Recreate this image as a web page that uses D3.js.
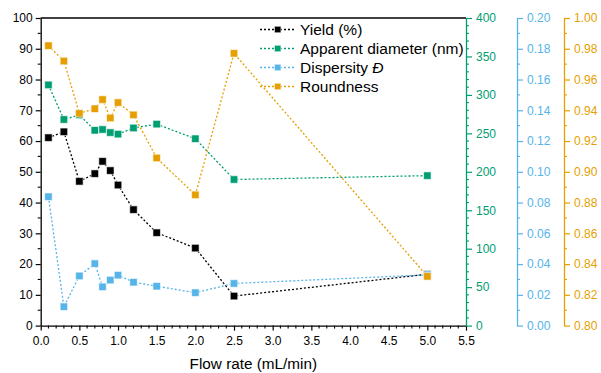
<!DOCTYPE html>
<html><head><meta charset="utf-8">
<script src="https://cdn.jsdelivr.net/npm/d3@7"></script>
<style>
html,body{margin:0;padding:0;background:#fff;}
svg{display:block;font-family:"Liberation Sans",Arial,sans-serif;}
</style></head>
<body><svg id="c" width="601" height="373"></svg>
<script>
const flowRate = [0.1, 0.3, 0.5, 0.7, 0.8, 0.9, 1.0, 1.2, 1.5, 2.0, 2.5, 5.0];
const yieldPct = [61.1, 63.0, 46.9, 49.4, 53.4, 50.4, 45.7, 37.7, 30.2, 25.2, 9.6, 16.7];
const diameterNm = [313, 268, 274, 254, 255, 251, 249, 257, 262, 243, 190, 195];
const dispersity = [0.0838, 0.0123, 0.0323, 0.0403, 0.0252, 0.0296, 0.0328, 0.0282, 0.0256, 0.0214, 0.0274, 0.033];
const roundness = [0.982, 0.972, 0.938, 0.941, 0.947, 0.935, 0.945, 0.937, 0.909, 0.885, 0.977, 0.832];
const legendLabels = ["Yield (%)", "Apparent diameter (nm)", "Dispersity Đ", "Roundness"];
const xTicks = [0,0.5,1,1.5,2,2.5,3,3.5,4,4.5,5,5.5];

const C = {black:"#000000", green:"#009E73", blue:"#56B4E9", orange:"#E69F00"};
const L = 40.7, R = 466, T = 18, B = 325.6;
const svg = d3.select("#c");

const x = d3.scaleLinear().domain([0,5.5]).range([L,R]);
const yL = d3.scaleLinear().domain([0,100]).range([B,T]);
const yG = d3.scaleLinear().domain([0,400]).range([B,T]);
const yB = d3.scaleLinear().domain([0,0.2]).range([B,T]);
const yO = d3.scaleLinear().domain([0.8,1.0]).range([B,T]);

function styleAxis(g, color){
  g.selectAll("path.domain").attr("stroke", color).attr("stroke-width", 1.3);
  g.selectAll(".tick line").attr("stroke", color).attr("stroke-width", 1.2);
  g.selectAll(".tick text").attr("fill", color).attr("font-size", 12)
    .attr("font-family", '"Liberation Sans",Arial,sans-serif');
}
function minor(g, ticks, scale, orient, len, color){
  ticks.forEach(v=>{
    const p = scale(v);
    if (orient==="left") g.append("line").attr("x1",0).attr("x2",-len).attr("y1",p).attr("y2",p);
    else if (orient==="right") g.append("line").attr("x1",0).attr("x2",len).attr("y1",p).attr("y2",p);
    else g.append("line").attr("x1",p).attr("x2",p).attr("y1",0).attr("y2",len);
  });
  g.selectAll(":scope > line").attr("stroke", color).attr("stroke-width",1.1);
}

// top frame line
svg.append("line").attr("x1",L).attr("x2",R).attr("y1",T).attr("y2",T).attr("stroke","#000").attr("stroke-width",1.3);

// bottom axis
const gx = svg.append("g").attr("transform",`translate(0,${B})`)
  .call(d3.axisBottom(x).tickValues(xTicks).tickFormat(d3.format(".1f")).tickSize(5).tickSizeOuter(0).tickPadding(6));
styleAxis(gx, C.black);
minor(gx, d3.range(0,56).map(i=>i/10).filter(v=>Math.round(v*10)%5!==0), x, "bottom", 3, C.black);

// left axis
const gl = svg.append("g").attr("transform",`translate(${L},0)`)
  .call(d3.axisLeft(yL).tickValues(d3.range(0,101,10)).tickSize(5).tickSizeOuter(0).tickPadding(3));
styleAxis(gl, C.black);
minor(gl, d3.range(5,100,10), yL, "left", 3, C.black);

// green axis
const gg = svg.append("g").attr("transform",`translate(${R},0)`)
  .call(d3.axisRight(yG).tickValues(d3.range(0,401,50)).tickSize(6).tickSizeOuter(0).tickPadding(4));
styleAxis(gg, C.green);
minor(gg, d3.range(0,401,10).filter(v=>v%50!==0), yG, "right", 3, C.green);

// blue axis
const gb = svg.append("g").attr("transform",`translate(517,0)`)
  .call(d3.axisRight(yB).tickValues(d3.range(0,11).map(i=>i*0.02)).tickFormat(d3.format(".2f")).tickSize(6).tickSizeOuter(0).tickPadding(4));
styleAxis(gb, C.blue);
minor(gb, d3.range(0,10).map(i=>i*0.02+0.01), yB, "right", 3, C.blue);

// orange axis
const go = svg.append("g").attr("transform",`translate(564,0)`)
  .call(d3.axisRight(yO).tickValues(d3.range(0,11).map(i=>0.8+i*0.02)).tickFormat(d3.format(".2f")).tickSize(6).tickSizeOuter(0).tickPadding(4));
styleAxis(go, C.orange);
minor(go, d3.range(0,10).map(i=>0.81+i*0.02), yO, "right", 3, C.orange);

// axis title
svg.append("text").attr("x",(L+R)/2).attr("y",369).attr("text-anchor","middle")
  .attr("font-size",15.3).attr("fill","#000").text("Flow rate (mL/min)");

// series
const series = [
  {vals: yieldPct, y: yL, color: C.black},
  {vals: diameterNm, y: yG, color: C.green},
  {vals: dispersity, y: yB, color: C.blue},
  {vals: roundness, y: yO, color: C.orange}
];
const M = 7.5;
series.forEach(s=>{
  const pts = flowRate.map((f,i)=>[x(f), s.y(s.vals[i])]);
  svg.append("path").attr("d", d3.line()(pts)).attr("fill","none")
    .attr("stroke", s.color).attr("stroke-width",1.3).attr("stroke-dasharray","2,2");
  svg.append("g").selectAll("rect").data(pts).join("rect")
    .attr("x",d=>d[0]-M/2).attr("y",d=>d[1]-M/2).attr("width",M).attr("height",M)
    .attr("fill", s.color).attr("stroke","rgba(255,255,255,0.6)").attr("stroke-width",1);
});

// legend
const lg = svg.append("g");
const LM = 6.5;
series.forEach((s,i)=>{
  const yy = 29.5 + i*19;
  lg.append("line").attr("x1",260).attr("x2",295).attr("y1",yy).attr("y2",yy)
    .attr("stroke", s.color).attr("stroke-width",1.3).attr("stroke-dasharray","2,2");
  lg.append("rect").attr("x",277.7-LM/2).attr("y",yy-LM/2).attr("width",LM).attr("height",LM)
    .attr("fill", s.color).attr("stroke","rgba(255,255,255,0.6)").attr("stroke-width",1);
  const t = lg.append("text").attr("x",300).attr("y",yy+5.3).attr("font-size",15.5).attr("fill","#000");
  if (i===2){
    t.append("tspan").text("Dispersity ");
    t.append("tspan").attr("font-style","italic").text("Đ");
  } else t.text(legendLabels[i]);
});
</script></body></html>
